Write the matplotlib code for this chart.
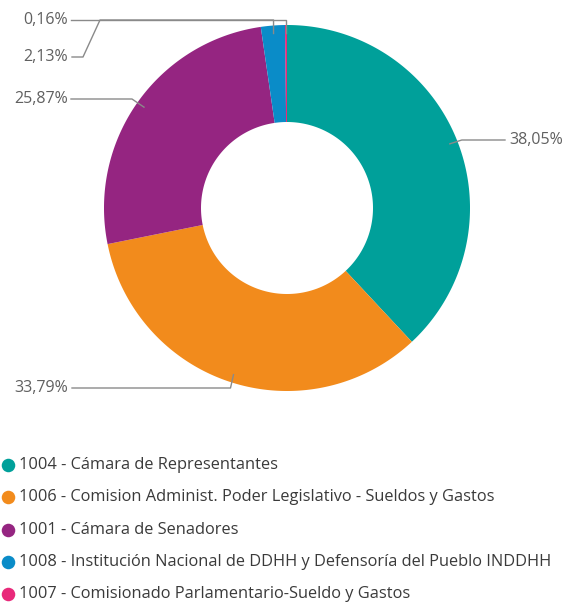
import matplotlib.pyplot as plt
import numpy as np

plt.rcParams['font.family'] = ['Open Sans', 'DejaVu Sans']

categories = [
    "1004 - Cámara de Representantes",
    "1006 - Comision Administ. Poder Legislativo - Sueldos y Gastos",
    "1001 - Cámara de Senadores",
    "1008 - Institución Nacional de DDHH y Defensoría del Pueblo INDDHH",
    "1007 - Comisionado Parlamentario-Sueldo y Gastos",
]
shares = [38.05, 33.79, 25.87, 2.13, 0.16]
colors = ["#00A09A", "#F28B1C", "#952581", "#0A8CC8", "#E8297A"]

W, H = 566, 604
fig = plt.figure(figsize=(W / 100, H / 100), dpi=100)
ax = fig.add_axes([0, 0, 1, 1])
ax.set_xlim(0, W)
ax.set_ylim(H, 0)
ax.axis("off")

cx, cy, R, r_in = 287, 208, 183, 86

# donut, clockwise from 12 o'clock (y axis points down here)
cum = 0.0
mids = []
for val, col in zip(shares, colors):
    sweep = val / 100 * 360
    th0 = -90 + cum
    th1 = th0 + sweep
    t = np.radians(np.linspace(th0, th1, 200))
    xo = cx + R * np.cos(t)
    yo = cy + R * np.sin(t)
    xi = cx + r_in * np.cos(t[::-1])
    yi = cy + r_in * np.sin(t[::-1])
    ax.fill(np.concatenate([xo, xi]), np.concatenate([yo, yi]), color=col, lw=0)
    mids.append(np.radians(th0 + sweep / 2))
    cum += sweep

label_txt = [f"{v:.2f}".replace(".", ",") + "%" for v in shares]
lc = "#8a8a8a"
tc = "#606060"
fs = 11.5
ra = 175

def anchor(i):
    return cx + ra * np.cos(mids[i]), cy + ra * np.sin(mids[i])

# 38,05%
x0, y0 = anchor(0)
ax.plot([x0, x0 + 12, 505], [y0, 140, 140], color=lc, lw=1)
ax.text(509, 140, label_txt[0], ha="left", va="center", fontsize=fs, color=tc)
# 33,79%
x0, y0 = anchor(1)
ax.plot([x0, x0 - 3, 72], [y0, 388, 388], color=lc, lw=1)
ax.text(68, 388, label_txt[1], ha="right", va="center", fontsize=fs, color=tc)
# 25,87%
x0, y0 = anchor(2)
ax.plot([x0, x0 - 12, 71], [y0, 99, 99], color=lc, lw=1)
ax.text(68, 99, label_txt[2], ha="right", va="center", fontsize=fs, color=tc)
# 2,13%
x0, y0 = anchor(3)
ax.plot([x0, x0, 100, 83, 72], [y0, 20, 20, 57, 57], color=lc, lw=1)
ax.text(68, 57, label_txt[3], ha="right", va="center", fontsize=fs, color=tc)
# 0,16%
x0, y0 = anchor(4)
ax.plot([x0, x0, 71], [y0, 20, 20], color=lc, lw=1)
ax.text(68, 20, label_txt[4], ha="right", va="center", fontsize=fs, color=tc)

# legend
for k, (name, col) in enumerate(zip(categories, colors)):
    yy = 465 + k * 32.3
    ax.scatter([8], [yy], s=95, color=col, lw=0, clip_on=False)
    ax.text(19, yy, name, ha="left", va="center", fontsize=11.8, color="#3a3a3a")

fig.savefig("out.png", dpi=100)
